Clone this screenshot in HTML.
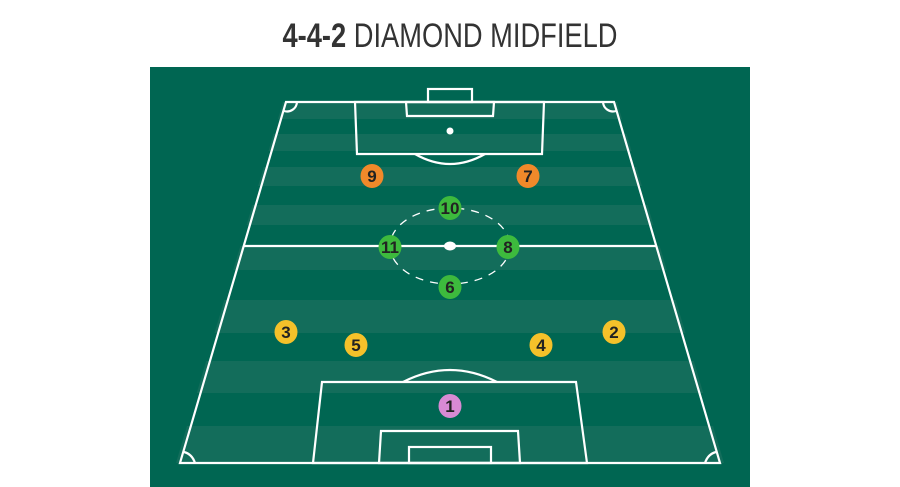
<!DOCTYPE html>
<html><head><meta charset="utf-8"><style>
html,body{margin:0;padding:0;background:#fff;width:900px;height:487px;overflow:hidden}
svg{display:block}
text{font-family:"Liberation Sans Narrow","Liberation Sans",sans-serif}
</style></head><body>
<svg width="900" height="487" viewBox="0 0 900 487">
<text x="450" y="47" text-anchor="middle" font-size="34" fill="#333" textLength="335" lengthAdjust="spacingAndGlyphs"><tspan font-weight="bold">4-4-2</tspan> DIAMOND MIDFIELD</text>
<rect x="150" y="67" width="600" height="420" fill="#006652"/>
<defs><clipPath id="tz"><polygon points="283,102 617,102 724,463 176,463"/></clipPath></defs>
<g id="stripes" clip-path="url(#tz)" fill="#136d5b"></g>
<g fill="none" stroke="#fff" stroke-width="2.2">
<polygon points="286,102 614,102 720,463 180,463"/>
<line x1="243" y1="246" x2="656" y2="246"/>
<rect x="428" y="89" width="44" height="13"/>
<polygon points="406,102 494,102 493,116 407,116"/>
<polygon points="355,102 544,102 542,154 357,154"/>
<path d="M415,154 Q450,174 485,154"/>
<polygon points="322,382 576,382 587,463 313,463"/>
<path d="M403,382 Q450,358 497,382"/>
<polygon points="381,431 518,431 520,463 379,463"/>
<rect x="409" y="447" width="82" height="16"/>
<path d="M297,102 A10,10 0 0 1 284,111"/><path d="M603,102 A10,10 0 0 0 616,111"/>
<path d="M184,452 Q192,454 195,463"/><path d="M716,452 Q708,454 705,463"/>
<ellipse cx="450" cy="246" rx="60" ry="38" stroke-dasharray="8,7" stroke-width="1.3"/>
</g>
<circle cx="450" cy="131" r="3.5" fill="#fff"/>
<ellipse cx="450" cy="246" rx="6" ry="4.5" fill="#fff"/>
<g id="players"></g>
</svg>
<script>
const stripeTops=[102,134,167,205,246,300,361,426];
const stripeBottoms=[119,151,186,225,270,333,393,463];
const playerNums=["9","7","10","11","8","6","3","5","4","2","1"];
const playerX=[372,528,450,390,508,450,286,356,541,614,450];
const playerY=[176,176,208,247,247,287,332,345,345,332,406];
const playerRole=["fw","fw","mf","mf","mf","mf","df","df","df","df","gk"];
const colors={fw:"#f0892a",mf:"#3dba3d",df:"#f5c12a",gk:"#d88ad4"};
const ns="http://www.w3.org/2000/svg";
const sg=document.getElementById('stripes');
stripeTops.forEach((t,i)=>{const r=document.createElementNS(ns,'rect');
r.setAttribute('x',150);r.setAttribute('y',t);r.setAttribute('width',600);r.setAttribute('height',stripeBottoms[i]-t);


sg.appendChild(r);});
const pg=document.getElementById('players');
playerNums.forEach((n,i)=>{const g=document.createElementNS(ns,'g');


const e=document.createElementNS(ns,'ellipse');
e.setAttribute('cx',playerX[i]);e.setAttribute('cy',playerY[i]);e.setAttribute('rx',11.5);e.setAttribute('ry',12);e.setAttribute('fill',colors[playerRole[i]]);
const t=document.createElementNS(ns,'text');
t.setAttribute('x',playerX[i]);t.setAttribute('y',playerY[i]+6);t.setAttribute('text-anchor','middle');t.setAttribute('font-size','17');t.setAttribute('font-weight','bold');t.setAttribute('fill','#222');
t.textContent=n;g.appendChild(e);g.appendChild(t);pg.appendChild(g);});
</script>
</body></html>
